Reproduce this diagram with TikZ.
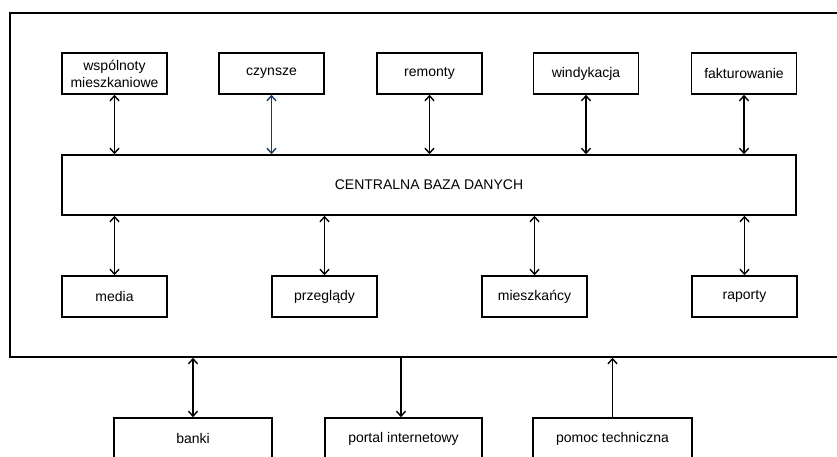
\documentclass[tikz,border=0pt]{standalone}
\usepackage{fontspec}
\setmainfont{Liberation Sans}
\usetikzlibrary{arrows.meta}
\definecolor{navy}{HTML}{1F3A68}

\begin{document}
\begin{tikzpicture}[x=1pt,y=-1pt,
  modul/.style={draw,line width=1.5pt,minimum width=105pt,minimum height=41pt,inner sep=2pt,align=center,
    font=\fontsize{14pt}{17pt}\selectfont},
  dwa/.style={line width=1.4pt,{Straight Barb[length=5pt,width=9pt]}-{Straight Barb[length=5pt,width=9pt]}},
  jeden/.style={line width=1.4pt,-{Straight Barb[length=5pt,width=9pt]}}]
\useasboundingbox[fill=white] (0,0) rectangle (837,456);
% ramka systemu i baza
\node[draw,line width=1.5pt,minimum width=835pt,minimum height=344pt,inner sep=0pt] (sys) at (427.5,185) {};
\node[modul,minimum width=734pt,minimum height=60pt] (baza) at (429,185) {CENTRALNA BAZA DANYCH};
% moduly gorne
\node[modul] (wsp) at (114.5,73.5) {wspólnoty\\mieszkaniowe};
\node[modul] (czy) at (271.5,73.5) {czynsze};
\node[modul] (rem) at (429.5,73.5) {remonty};
\node[modul] (win) at (586,73.5) {windykacja};
\node[modul] (fak) at (744,73.5) {fakturowanie};
% moduly dolne
\node[modul] (med) at (114.5,296.5) {media};
\node[modul] (prz) at (324.5,296.5) {przeglądy};
\node[modul] (mie) at (534.5,296.5) {mieszkańcy};
\node[modul] (rap) at (744.5,296.5) {raporty};
% zewnetrzne
\node[modul,minimum width=158pt] (ban) at (193,438.5) {banki};
\node[modul,minimum width=157pt] (por) at (403.5,438.5) {portal internetowy};
\node[modul,minimum width=159pt] (pom) at (612.5,438.5) {pomoc techniczna};
% polaczenia
\foreach \n in {wsp,rem,win,fak} {\draw[dwa] (\n.south) -- (\n.south |- baza.north);}
\draw[dwa,navy] (czy.south) -- (czy.south |- baza.north);
\foreach \n in {med,prz,mie,rap} {\draw[dwa] (\n.north |- baza.south) -- (\n.north);}
\draw[dwa] (ban.north |- sys.south) -- (ban.north);
\draw[jeden] ([xshift=-2.5pt]por.north |- sys.south) -- ([xshift=-2.5pt]por.north);
\draw[jeden] (pom.north) -- (pom.north |- sys.south);
\end{tikzpicture}
\end{document}
